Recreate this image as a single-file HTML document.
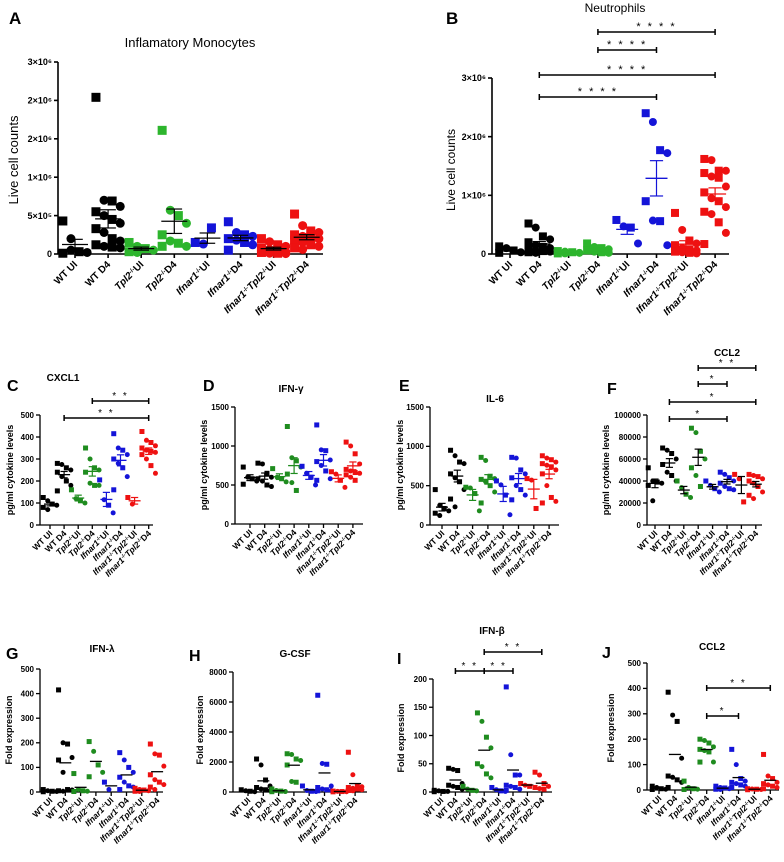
<!DOCTYPE html>
<html><head><meta charset="utf-8"><style>
body{margin:0;background:#fff}
svg{display:block;font-family:"Liberation Sans",Arial,sans-serif}
</style></head><body>
<svg id="fig" width="784" height="862" viewBox="0 0 784 862" xmlns="http://www.w3.org/2000/svg"></svg>
<script>
// ---- data ----
const categories = ["WT UI","WT D4","Tpl2 UI","Tpl2 D4","Ifnar1 UI","Ifnar1 D4","Ifnar1 Tpl2 UI","Ifnar1 Tpl2 D4"];
const aValues = [[430000,200000,30000,20000,10000,50000],[2040000,700000,690000,620000,550000,500000,450000,400000,330000,280000,200000,170000,120000,100000,90000,80000],[150000,100000,70000,50000,30000,20000],[1610000,570000,500000,400000,250000,170000,140000,100000,100000],[150000,130000,340000],[420000,280000,250000,230000,200000,180000,150000,120000,50000],[200000,160000,120000,100000,80000,60000,40000,30000,20000,10000,10000,5000],[520000,370000,300000,280000,250000,230000,220000,200000,180000,150000,120000,100000,80000,60000]];
const aTicks = [0,500000,1000000,1500000,2000000,2500000];
const aTickLabels = ["0","5×10⁵","1×10⁶","2×10⁶","2×10⁶","3×10⁶"];
const bValues = [[130000,100000,60000,30000,20000],[520000,450000,300000,250000,200000,150000,120000,100000,80000,60000,50000,40000,30000,20000],[50000,40000,30000,20000,10000,10000],[180000,120000,100000,80000,60000,40000,30000,20000],[580000,470000,450000,180000],[2400000,2250000,1770000,1720000,900000,570000,560000,150000],[700000,410000,230000,180000,150000,100000,80000,60000,40000,30000,20000,10000],[1620000,1600000,1420000,1420000,1380000,1320000,1300000,1150000,1050000,950000,900000,800000,720000,680000,540000,360000,170000]];
const bTicks = [0,1000000,2000000,3000000];
const bTickLabels = ["0","1×10⁶","2×10⁶","3×10⁶"];
const cValues = [[125,110,95,90,80,70],[280,275,260,250,240,220,200,180,155],[160,120,110,100],[350,300,260,250,240,190,180,180],[205,115,90,55],[415,350,340,320,300,280,260,220,160],[125,95],[425,385,375,360,350,340,335,330,320,300,270,235]];
const cTicks = [0,100,200,300,400,500];
const dValues = [[730,600,580,550,510],[780,770,650,600,580,550,500,480],[710,600,580,540],[1250,850,810,730,640,530,430],[740,650,600,500],[1270,950,940,820,800,750,680,580,560],[670,640,560,470],[1050,1000,900,770,700,680,660,650,630,600,560]];
const dTicks = [0,500,1000,1500];
const eValues = [[450,250,210,180,150,120],[950,880,800,780,650,600,550,450,330,230],[480,470,400,180],[860,820,620,590,580,550,500,420,280],[560,510,380,130],[860,850,700,650,600,500,450,380,320],[590,570,210],[880,850,830,800,780,760,740,700,650,500,350,300,280]];
const eTicks = [0,500,1000,1500];
const fValues = [[52000,40000,39000,38000,36000,22000],[70000,68000,65000,60000,55000,48000,45000,40000],[40000,34000,28000,25000],[88000,84000,67000,60000,52000,45000,35000],[40000,36000,33000,30000],[48000,46000,43000,40000,38000,35000,33000,32000],[46000,42000,21000],[46000,45000,44000,42000,40000,38000,35000,30000,27000,24000]];
const fTicks = [0,20000,40000,60000,80000,100000];
const gValues = [[10,5,3,2,1],[415,200,195,140,130,80,10,8,5,3],[75,10,5,3,2],[205,165,110,80,62],[40,10],[160,130,100,80,60,40,25,20,10],[15,10,8,5,3,2],[195,155,150,105,70,50,40,30,20,10]];
const gTicks = [0,100,200,300,400,500];
const hValues = [[150,80,50,20],[2200,1800,800,400,300,200,150,100],[200,100,60,30,20],[2550,2500,2200,2100,1800,700,650],[400,100,50,30],[6450,1900,1850,400,300,200,150,100,80],[60,40,30,20,10],[2650,1150,400,350,300,250,200,150,100,80]];
const hTicks = [0,2000,4000,6000,8000];
const iValues = [[3,2,1,1,0.5],[42,40,38,15,12,10,8,5],[10,5,3,2],[140,125,97,78,50,45,32,25],[8,4,2,1],[186,66,30,30,12,10,8,5,3],[15,12,10],[35,30,15,10,8,6,5]];
const iTicks = [0,50,100,150,200];
const jValues = [[15,10,5,3,2],[385,295,270,125,55,50,40,30,10],[35,10,5,3,2],[200,195,185,170,160,155,150,110,110],[15,10,8,5,3,2],[160,100,45,35,30,25,20,15,10],[5,4,3,2,1],[140,55,45,30,25,20,15,10,5]];
const jTicks = [0,100,200,300,400,500];

const NS="http://www.w3.org/2000/svg";
const svg=document.getElementById('fig');
function mk(tag,attrs,parent){const e=document.createElementNS(NS,tag);for(const k in attrs)e.setAttribute(k,attrs[k]);(parent||svg).appendChild(e);return e;}

function xLabel(g,idx,x,y,fs){
  const t=mk('text',{x:x,y:y,'text-anchor':'end','font-size':fs,'font-weight':'bold',transform:`rotate(-45 ${x} ${y})`},g);
  
  
  const parts={
    0:[["WT UI"]],1:[["WT D4"]],
    2:[["Tpl2","i"],["-/-","s"],["UI"]],3:[["Tpl2","i"],["-/-","s"],["D4"]],
    4:[["Ifnar1","i"],["-/-","s"],["UI"]],5:[["Ifnar1","i"],["-/-","s"],["D4"]],
    6:[["Ifnar1","i"],["-/-","s"],["Tpl2","i"],["-/-","s"],["UI"]],
    7:[["Ifnar1","i"],["-/-","s"],["Tpl2","i"],["-/-","s"],["D4"]]}[idx];
  parts.forEach(p=>{const s=mk('tspan',{},t);s.textContent=p[0];
    if(p[1]==='i')s.setAttribute('font-style','italic');
    if(p[1]==='s'){s.setAttribute('font-size',fs*0.6);s.setAttribute('baseline-shift','super');}});
}

function panel(cfg){
  const g=mk('g',{});
  
  
  const ys=v=>cfg.y0-(v/cfg.max)*(cfg.y0-cfg.y1);
  const xs=i=>cfg.c0+i*cfg.dc;
  // letter
  const L=mk('text',{x:cfg.lx,y:cfg.ly,'font-size':cfg.lfs||16,'font-weight':'bold'},g);L.textContent=cfg.id;
  
  
  const T=mk('text',{x:cfg.tx,y:cfg.ty,'text-anchor':'middle','font-size':cfg.tfs,'font-weight':cfg.tbold?'bold':'normal'},g);T.textContent=cfg.title;
  
  
  // axes
  const ya=mk('line',{x1:cfg.ax,y1:cfg.y1,x2:cfg.ax,y2:cfg.y0+0.5,stroke:'#000','stroke-width':cfg.aw},g);
  
  
  const xa=mk('line',{x1:cfg.ax,y1:cfg.y0,x2:cfg.axEnd,y2:cfg.y0,stroke:'#000','stroke-width':cfg.aw},g);
  
  
  cfg.ticks.forEach((tv,k)=>{const y=ys(tv);
    mk('line',{x1:cfg.ax-4,y1:y,x2:cfg.ax,y2:y,stroke:'#000','stroke-width':cfg.aw},g);
    const tl=mk('text',{x:cfg.ax-6,y:y+cfg.tkfs*0.35,'text-anchor':'end','font-size':cfg.tkfs,'font-weight':'bold'},g);
    tl.textContent=cfg.tickLabels?cfg.tickLabels[k]:String(tv);
    
    });
  const yl=mk('text',{x:cfg.ylx,y:cfg.yly,'text-anchor':'middle','font-size':cfg.ylfs,'font-weight':cfg.ylbold?'bold':'normal',transform:`rotate(-90 ${cfg.ylx} ${cfg.yly})`},g);
  yl.textContent=cfg.ylabel;
  
  
  const colors=['#000',  '#000', cfg.green,cfg.green,cfg.blue,cfg.blue,'#ee1111','#ee1111'];
  categories.forEach((c,i)=>{
    const x=xs(i);
    mk('line',{x1:x,y1:cfg.y0,x2:x,y2:cfg.y0+4,stroke:'#000','stroke-width':cfg.aw},g);
    xLabel(g,i,x+3,cfg.y0+cfg.xlOff,cfg.xlfs);
    const vals=cfg.values[i];const gg=mk('g',{},g);
    
    
    const n=vals.length;const ms=cfg.ms;
    vals.forEach((v,k)=>{
      const off=((k%4)-1.5)*ms*0.9;
      const px=x+off,py=ys(v);
      let m;
      if(k%2===0){m=mk('rect',{x:px-ms/2,y:py-ms/2,width:ms,height:ms,fill:colors[i]},gg);}
      else{m=mk('circle',{cx:px,cy:py,r:ms/2,fill:colors[i]},gg);}
      
      
    });
    const mean=vals.reduce((a,b)=>a+b,0)/n;
    const sd=Math.sqrt(vals.reduce((a,b)=>a+(b-mean)*(b-mean),0)/Math.max(1,n-1));
    const sem=sd/Math.sqrt(n);
    const lc=(i<2)?'#000':colors[i];
    const ml=mk('line',{x1:x-cfg.mw,y1:ys(mean),x2:x+cfg.mw,y2:ys(mean),stroke:cfg.meanBlack?'#000':lc,'stroke-width':1.3},gg);
    
    
    if(cfg.sem){
      const c2=cfg.meanBlack?'#000':lc;
      mk('line',{x1:x,y1:ys(mean+sem),x2:x,y2:ys(Math.max(0,mean-sem)),stroke:c2,'stroke-width':1.2},gg);
      mk('line',{x1:x-cfg.mw*0.6,y1:ys(mean+sem),x2:x+cfg.mw*0.6,y2:ys(mean+sem),stroke:c2,'stroke-width':1.2},gg);
      mk('line',{x1:x-cfg.mw*0.6,y1:ys(Math.max(0,mean-sem)),x2:x+cfg.mw*0.6,y2:ys(Math.max(0,mean-sem)),stroke:c2,'stroke-width':1.2},gg);
    }
  });
  (cfg.sig||[]).forEach(s=>{
    const b=mk('g',{},g);
    
    
    const x1=xs(s[0]),x2=xs(s[1]),y=s[3];
    mk('line',{x1:x1,y1:y,x2:x2,y2:y,stroke:'#000','stroke-width':1.5},b);
    mk('line',{x1:x1,y1:y-3,x2:x1,y2:y+3,stroke:'#000','stroke-width':1.5},b);
    mk('line',{x1:x2,y1:y-3,x2:x2,y2:y+3,stroke:'#000','stroke-width':1.5},b);
    const st=mk('text',{x:(x1+x2)/2,y:y-2,'text-anchor':'middle','font-size':cfg.sigfs||10,'letter-spacing':'2'},b);
    st.textContent=s[2];
  });
}

const gA='#2db52d', gC='#1f8c1f', bl='#1414d8';
panel({id:'A',values:aValues,ticks:aTicks,tickLabels:aTickLabels,max:2500000,y0:254,y1:62,ax:58,axEnd:323,c0:75,dc:33.1,
  lx:9,ly:24,lfs:17,title:'Inflamatory Monocytes',tx:190,ty:47,tfs:13,ylabel:'Live cell counts',ylx:18,yly:160,ylfs:13,
  tkfs:9,aw:1.6,xlOff:11,xlfs:10,ms:9,mw:13,sem:true,green:gA,blue:bl,meanBlack:true});
panel({id:'B',values:bValues,ticks:bTicks,tickLabels:bTickLabels,max:3000000,y0:254,y1:78,ax:492,axEnd:729,c0:510,dc:29.3,
  lx:446,ly:24,lfs:17,title:'Neutrophils',tx:615,ty:12,tfs:12,ylabel:'Live cell counts',ylx:455,yly:170,ylfs:12,
  tkfs:9,aw:1.6,xlOff:11,xlfs:10,ms:8,mw:11,sem:true,green:gA,blue:bl,meanBlack:false,sigfs:11,
  sig:[[3,7,'* * * *',32],[3,5,'* * * *',50],[1,7,'* * * *',75],[1,5,'* * * *',97]]});
panel({id:'C',values:cValues,ticks:cTicks,max:500,y0:525,y1:415,ax:40,axEnd:153,c0:50,dc:14.1,
  lx:7,ly:391,lfs:16,title:'CXCL1',tx:63,ty:381,tfs:10,tbold:true,ylabel:'pg/ml cytokine levels',ylx:13,yly:470,ylfs:9,ylbold:true,
  tkfs:8,aw:1.3,xlOff:9,xlfs:8.5,ms:5,mw:6,sem:true,green:gC,blue:bl,meanBlack:false,
  sig:[[3,7,'* *',401],[1,7,'* *',418]]});
panel({id:'D',values:dValues,ticks:dTicks,max:1500,y0:524,y1:407,ax:235,axEnd:363,c0:250,dc:14.7,
  lx:203,ly:391,lfs:16,title:'IFN-γ',tx:291,ty:392,tfs:10,tbold:true,ylabel:'pg/ml cytokine levels',ylx:207,yly:465,ylfs:9,ylbold:true,
  tkfs:8,aw:1.3,xlOff:9,xlfs:8.5,ms:5,mw:6,sem:true,green:gC,blue:bl,meanBlack:false});
panel({id:'E',values:eValues,ticks:eTicks,max:1500,y0:525,y1:407,ax:430,axEnd:559,c0:442,dc:15.3,
  lx:399,ly:391,lfs:16,title:'IL-6',tx:495,ty:402,tfs:10,tbold:true,ylabel:'pg/ml cytokine levels',ylx:403,yly:465,ylfs:9,ylbold:true,
  tkfs:8,aw:1.3,xlOff:9,xlfs:8.5,ms:5,mw:6,sem:true,green:gC,blue:bl,meanBlack:false});
panel({id:'F',values:fValues,ticks:fTicks,max:100000,y0:525,y1:415,ax:647,axEnd:762,c0:655,dc:14.4,
  lx:607,ly:394,lfs:16,title:'CCL2',tx:727,ty:356,tfs:10,tbold:true,ylabel:'pg/ml cytokine levels',ylx:609,yly:470,ylfs:9,ylbold:true,
  tkfs:8,aw:1.3,xlOff:9,xlfs:8.5,ms:5,mw:6,sem:true,green:gC,blue:bl,meanBlack:true,
  sig:[[3,7,'* *',368],[3,5,'*',384],[1,7,'*',402],[1,5,'*',419]]});
panel({id:'G',values:gValues,ticks:gTicks,max:500,y0:792,y1:669,ax:40,axEnd:163,c0:50,dc:15.3,
  lx:6,ly:659,lfs:16,title:'IFN-λ',tx:102,ty:652,tfs:10,tbold:true,ylabel:'Fold expression',ylx:12,yly:730,ylfs:9,ylbold:true,
  tkfs:8,aw:1.3,xlOff:9,xlfs:8.5,ms:5,mw:6,sem:false,green:gC,blue:bl,meanBlack:true});
panel({id:'H',values:hValues,ticks:hTicks,max:8000,y0:792,y1:672,ax:233,axEnd:367,c0:248,dc:15.3,
  lx:189,ly:661,lfs:16,title:'G-CSF',tx:295,ty:657,tfs:10,tbold:true,ylabel:'Fold expression',ylx:203,yly:730,ylfs:9,ylbold:true,
  tkfs:8,aw:1.3,xlOff:9,xlfs:8.5,ms:5,mw:6,sem:false,green:gC,blue:bl,meanBlack:true});
panel({id:'I',values:iValues,ticks:iTicks,max:200,y0:792,y1:679,ax:433,axEnd:552,c0:441,dc:14.4,
  lx:397,ly:664,lfs:16,title:'IFN-β',tx:492,ty:634,tfs:10,tbold:true,ylabel:'Fold expression',ylx:404,yly:738,ylfs:9,ylbold:true,
  tkfs:8,aw:1.3,xlOff:9,xlfs:8.5,ms:5,mw:6,sem:false,green:gC,blue:bl,meanBlack:true,
  sig:[[3,7,'* *',652],[1,3,'* *',671],[3,5,'* *',671]]});
panel({id:'J',values:jValues,ticks:jTicks,max:500,y0:790,y1:663,ax:647,axEnd:779,c0:659,dc:15.9,
  lx:602,ly:658,lfs:16,title:'CCL2',tx:712,ty:650,tfs:10,tbold:true,ylabel:'Fold expression',ylx:614,yly:728,ylfs:9,ylbold:true,
  tkfs:8,aw:1.3,xlOff:9,xlfs:8.5,ms:5,mw:6,sem:false,green:gC,blue:bl,meanBlack:true,
  sig:[[3,7,'* *',688],[3,5,'*',716]]});
</script>
</body></html>
